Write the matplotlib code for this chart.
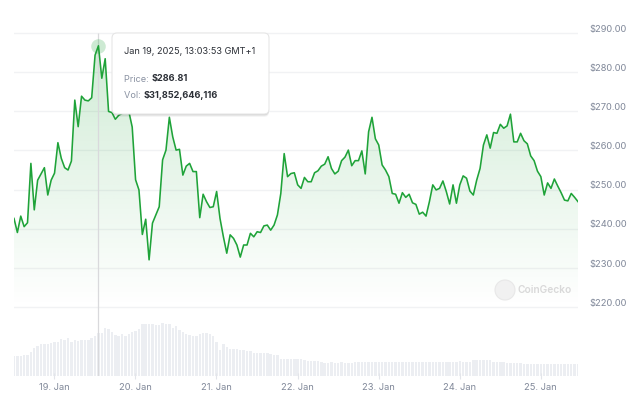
import matplotlib
matplotlib.use("Agg")
import matplotlib.pyplot as plt
import matplotlib.dates as mdates
import numpy as np
import pandas as pd
from matplotlib.patches import FancyBboxPatch, Polygon, Circle
from matplotlib.transforms import IdentityTransform

plt.rcParams["font.family"] = ["Inter", "DejaVu Sans"]

# hourly samples, Jan 18 12:03 -> Jan 25 11:03 (GMT+1)
start = "2025-01-18 12:03"
price = [
    242.6, 239.0, 243.2, 240.5, 241.5, 256.7, 244.8, 252.4, 254.0, 255.6,
    248.6, 252.4, 254.2, 262.0, 258.0, 255.6, 255.0, 257.3, 272.9, 266.1,
    273.9, 272.9, 272.7, 273.5, 284.4, 286.81, 278.5, 283.5, 270.0, 269.7,
    268.0, 269.0, 269.5, 269.6, 270.0, 266.0, 252.5, 249.9, 238.5, 242.4,
    232.0, 241.4, 243.5, 245.6, 257.6, 260.1, 268.5, 263.5, 260.1, 260.3,
    253.7, 256.0, 256.7, 254.6, 254.6, 242.8, 248.8, 246.9, 245.4, 245.6,
    249.5, 242.6, 237.9, 233.7, 238.4, 237.5, 235.8, 232.7, 235.8, 235.8,
    238.8, 237.9, 239.2, 239.0, 240.7, 240.9, 239.6, 240.9, 243.5, 249.0,
    259.2, 253.3, 254.1, 254.3, 251.2, 250.3, 253.1, 252.0, 252.0, 254.3,
    254.8, 256.0, 256.5, 258.4, 255.4, 254.0, 254.7, 257.4, 258.3, 260.1,
    256.1, 257.4, 257.4, 259.9, 254.0, 264.8, 268.5, 263.0, 261.4, 256.3,
    255.0, 253.3, 249.0, 248.8, 246.5, 249.2, 248.0, 248.8, 246.6, 246.2,
    243.7, 244.2, 243.2, 246.9, 251.2, 249.9, 250.3, 252.2, 249.5, 246.3,
    251.2, 246.5, 251.2, 253.5, 252.9, 249.6, 248.6, 252.4, 255.4, 261.4,
    264.0, 260.6, 264.6, 264.4, 266.7, 265.7, 266.3, 269.3, 262.2, 262.2,
    264.4, 262.5, 261.7, 258.6, 257.4, 254.7, 253.3, 248.6, 251.7, 250.3,
    252.7, 250.9, 249.2, 247.3, 247.1, 249.0, 248.0, 246.9,
]
# 24h volume, billions USD
volume_bn = [
    14.9, 14.9, 14.9, 15.3, 15.7, 17.9, 20.9, 22.4, 23.9, 24.2,
    24.2, 24.5, 25.0, 25.4, 27.6, 26.5, 28.0, 25.7, 26.9, 26.1,
    26.5, 27.2, 27.2, 28.3, 30.2, 31.85, 32.1, 36.1, 34.7, 32.8,
    30.6, 29.5, 31.0, 29.5, 31.3, 32.8, 33.6, 34.7, 38.6, 38.6,
    38.6, 38.8, 38.4, 37.7, 39.8, 38.8, 38.6, 36.1, 37.1, 34.1,
    32.8, 31.6, 30.4, 29.6, 29.6, 31.6, 32.1, 32.1, 31.6, 29.6,
    25.4, 19.7, 23.6, 21.6, 20.4, 20.1, 20.1, 19.7, 19.2, 18.9,
    18.7, 17.5, 17.5, 17.2, 17.2, 17.2, 16.2, 16.0, 16.0, 13.0,
    13.0, 13.0, 13.0, 13.0, 12.7, 12.7, 11.7, 11.5, 11.2, 11.2,
    11.2, 10.8, 10.0, 10.0, 10.1, 10.0, 10.0, 10.1, 10.0, 10.0,
    10.0, 10.3, 10.3, 10.2, 10.3, 10.3, 10.4, 10.3, 10.3, 10.2,
    10.3, 10.3, 10.3, 10.4, 10.4, 10.4, 10.5, 10.4, 10.4, 10.4,
    10.3, 10.4, 10.4, 10.5, 10.4, 10.4, 10.4, 10.4, 10.4, 10.8,
    10.8, 10.8, 10.9, 10.8, 10.8, 10.8, 11.6, 11.6, 11.7, 11.6,
    11.6, 11.6, 10.8, 10.8, 10.8, 10.8, 9.7, 9.7, 9.7, 9.7,
    9.7, 8.6, 8.6, 8.6, 8.6, 8.6, 8.6, 8.6, 8.6, 8.6,
    8.6, 8.6, 8.6, 8.6, 8.6, 8.6, 8.6, 8.6,
]
price_ticks = [220, 230, 240, 250, 260, 270, 280, 290]
day_ticks = ["2025-01-19", "2025-01-20", "2025-01-21", "2025-01-22",
             "2025-01-23", "2025-01-24", "2025-01-25"]
day_labels = ["19. Jan", "20. Jan", "21. Jan", "22. Jan", "23. Jan", "24. Jan", "25. Jan"]

hover_idx = 25
hover_title = "Jan 19, 2025, 13:03:53 GMT+1"
hover_price = "$286.81"
hover_vol = "$31,852,646,116"

GREEN = "#1fa339"
GRID = "#f1f2f4"
LABEL = "#808899"
W, H = 640, 404

times = pd.date_range(start, periods=len(price), freq="h")
xs = mdates.date2num(times)

fig = plt.figure(figsize=(W / 100, H / 100), dpi=100)
rect = [14 / W, 1 - 376 / H, 564 / W, 346 / H]
ax_vol = fig.add_axes(rect)
ax = fig.add_axes(rect, sharex=ax_vol)
ax.patch.set_alpha(0)

# volume bars
ax_vol.bar(xs, volume_bn, width=0.72 / 24, color="#eceef2", linewidth=0)
ax_vol.set_ylim(0, 258.1)
ax_vol.axis("off")

# price grid
for v in price_ticks:
    ax.axhline(v, color=GRID, lw=1.0, zorder=0)
    ax.annotate(f"${v:.2f}", xy=(1, v), xycoords=("axes fraction", "data"),
                xytext=(8.2, 2.6), textcoords="offset points",
                ha="left", va="center", fontsize=6.7, color=LABEL)

# gradient fill under the line
verts = [(xs[0], 220)] + list(zip(xs, price)) + [(xs[-1], 220)]
clip = Polygon(verts, closed=True, facecolor="none", edgecolor="none")
ax.add_patch(clip)
grad = np.zeros((256, 1, 4))
grad[..., :3] = matplotlib.colors.to_rgb(GREEN)
grad[:, 0, 3] = np.linspace(0.22, 0.0, 256)
im = ax.imshow(grad, extent=[xs[0], xs[-1], 220, 290], aspect="auto",
               origin="upper", zorder=1, interpolation="bilinear")
im.set_clip_path(clip)

ax.plot(xs, price, color=GREEN, lw=1.15, zorder=3, solid_joinstyle="round")

# hover crosshair and marker
ax.vlines(xs[hover_idx], 190, 290.2, color="#d9d9dc", lw=0.9, zorder=2)
ax.plot(xs[hover_idx], price[hover_idx], "o", ms=10.5, color=GREEN, alpha=0.22,
        mec="none", zorder=4)

ax.set_xlim(xs[0], xs[-1])
ax.set_ylim(202.26, 290.85)
for s in ax.spines.values():
    s.set_visible(False)
ax.set_yticks([])
ax.set_xticks(mdates.date2num(pd.to_datetime(day_ticks)))
ax.set_xticklabels(day_labels)
ax.tick_params(axis="x", direction="inout", length=4, width=0.8, color="#e3e5ea",
               labelsize=6.7, labelcolor=LABEL, pad=3)

# watermark
fig.add_artist(Circle((505, H - 290), 10, transform=IdentityTransform(),
                      facecolor="#f1f1f1", edgecolor="#e8e8e8", lw=0.8))
fig.text(518, H - 290, "CoinGecko", transform=IdentityTransform(),
         ha="left", va="center", fontsize=7.3, color="#d9d9d9", fontweight="semibold")

# tooltip
for off, a in [(3, 0.04), (2, 0.06), (1, 0.08)]:
    fig.add_artist(FancyBboxPatch((112, H - 114 - off), 157, 81, transform=IdentityTransform(),
                                  boxstyle="round,pad=0,rounding_size=5",
                                  facecolor="black", alpha=a, edgecolor="none"))
fig.add_artist(FancyBboxPatch((112, H - 114), 157, 81, transform=IdentityTransform(),
                              boxstyle="round,pad=0,rounding_size=5",
                              facecolor="white", edgecolor="#e6e6e6", lw=0.8))
fig.text(124, H - 52, hover_title, transform=IdentityTransform(),
         ha="left", va="center", fontsize=6.6, color="#2b2f36")
lp = fig.text(124, H - 79, "Price: ", transform=IdentityTransform(),
              ha="left", va="center", fontsize=6.6, color="#8a92a2")
fig.add_artist(plt.Annotation(hover_price, xy=(1, 0.5), xycoords=lp, va="center",
                              ha="left", fontsize=6.6, fontweight="bold", color="#2b2f36"))
lv = fig.text(124, H - 95, "Vol: ", transform=IdentityTransform(),
              ha="left", va="center", fontsize=6.6, color="#8a92a2")
fig.add_artist(plt.Annotation(hover_vol, xy=(1, 0.5), xycoords=lv, va="center",
                              ha="left", fontsize=6.6, fontweight="bold", color="#2b2f36"))

fig.savefig("out.png", dpi=100, facecolor="white")
